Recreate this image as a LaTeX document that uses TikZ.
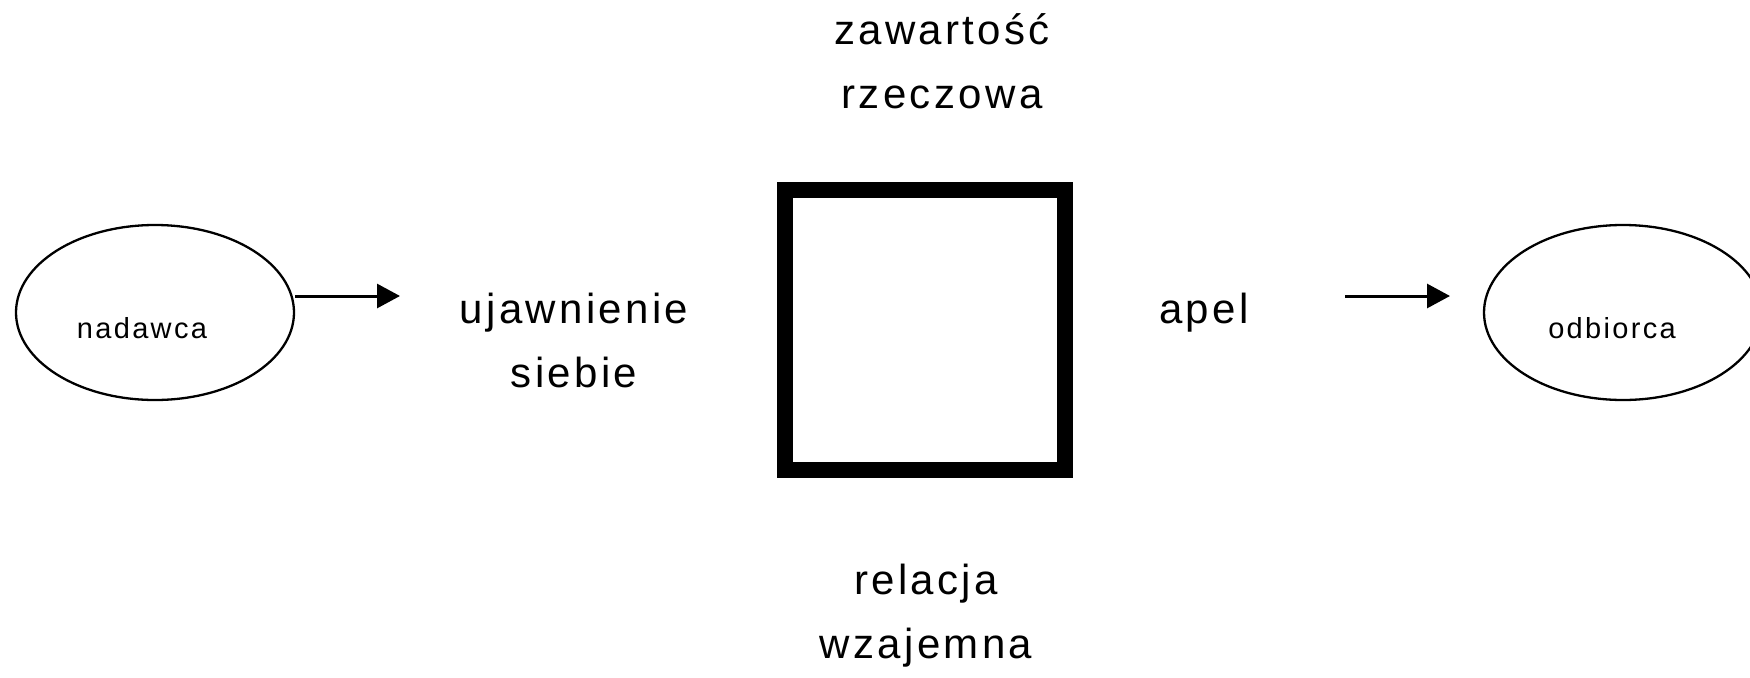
\documentclass[tikz,border=0pt]{standalone}
\usepackage{fontspec}
\setmainfont{Liberation Sans}[LetterSpace=8]
\usetikzlibrary{arrows.meta,shapes.geometric}
\begin{document}
\begin{tikzpicture}[x=1pt,y=-1pt,
  ell/.style={draw,ellipse,line width=2.3pt,minimum width=278pt,minimum height=175pt,inner sep=0pt},
  small/.style={font=\fontsize{29}{34}\selectfont,anchor=base,inner sep=0pt},
  big/.style={font=\fontsize{42}{64}\selectfont,anchor=base,align=center,inner sep=0pt},
  arr/.style={line width=3pt,-{Triangle[length=23pt,width=24pt]}},
  sq/.style={draw,line width=16pt,minimum size=280pt,inner sep=0pt}]
\useasboundingbox (0,0) rectangle (1750,677);
\node[ell] (nad) at (155,312.5) {};
\node[small] (nadt) at (142,338) {nadawca};
\node[ell] (odb) at (1623,312.5) {};
\node[small] (odbt) at (1612,338) {odbiorca};
\node[sq] (box) at (925,330) {};
\node[big] (zaw) at (942,108) {zawartość\\rzeczowa};
\node[big] (uja) at (574,387) {ujawnienie\\siebie};
\node[big] (apel) at (1204,323) {apel};
\node[big] (rel) at (926,658) {relacja\\wzajemna};
\coordinate (a1) at (400,296);
\coordinate (b0) at (1345,296);
\coordinate (b1) at (1450,296);
\draw[arr] (nad.east |- a1) -- (a1);
\draw[arr] (b0) -- (b1);
\end{tikzpicture}
\end{document}
